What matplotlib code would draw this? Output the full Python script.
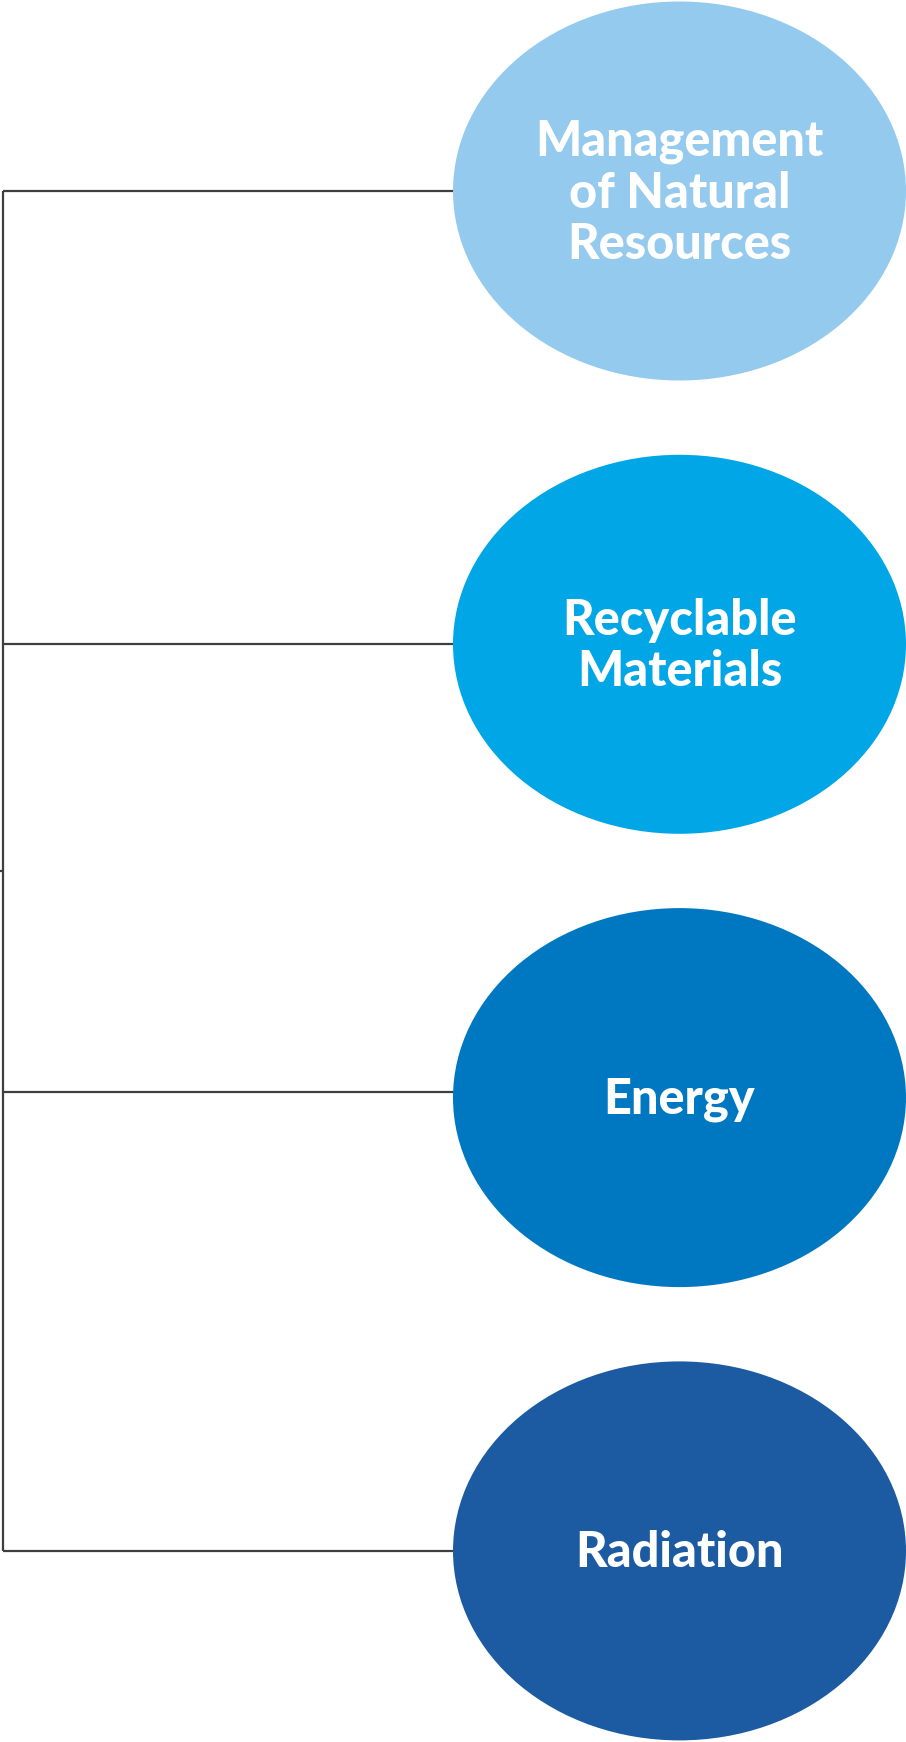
import matplotlib.pyplot as plt
from matplotlib.patches import Ellipse

# categories shown in the bubbles, top to bottom
labels = ["Management\nof Natural\nResources", "Recyclable\nMaterials", "Energy", "Radiation"]
colors = ["#93CAEE", "#00A6E6", "#0078C1", "#1C5BA2"]

W, H = 906, 1742
fig = plt.figure(figsize=(W / 100, H / 100), dpi=100)
ax = fig.add_axes([0, 0, 1, 1])
ax.set_xlim(0, W)
ax.set_ylim(H, 0)
ax.axis("off")

cx = 679.5
ew, eh = 453, 379
y0, step = 191, 453.3
line_x = 3
line_col = "#3f3f3f"
# connector lines don't hit the bubbles exactly in the middle everywhere
line_shift = [0, 0, -6, 0]

ys = [y0 + i * step for i in range(len(labels))]
line_ys = [y + s for y, s in zip(ys, line_shift)]

# bracket on the left
ax.plot([line_x, line_x], [line_ys[0], line_ys[-1]], color=line_col, lw=1.6, solid_capstyle="butt", zorder=1)
mid = (line_ys[0] + line_ys[-1]) / 2
ax.plot([0, line_x], [mid, mid], color=line_col, lw=1.6, solid_capstyle="butt", zorder=1)

for lab, col, y, ly in zip(labels, colors, ys, line_ys):
    ax.plot([line_x, cx - ew / 2 + 2], [ly, ly], color=line_col, lw=1.6, solid_capstyle="butt", zorder=1)
    ax.add_patch(Ellipse((cx, y), ew, eh, facecolor=col, edgecolor="none", zorder=2))
    ax.text(cx, y + 2, lab, ha="center", va="center", multialignment="center",
            color="white", fontsize=35, fontweight="black", family=["Lato", "DejaVu Sans"],
            linespacing=1.17, zorder=3)

fig.savefig("out.png", dpi=100, facecolor="white")
